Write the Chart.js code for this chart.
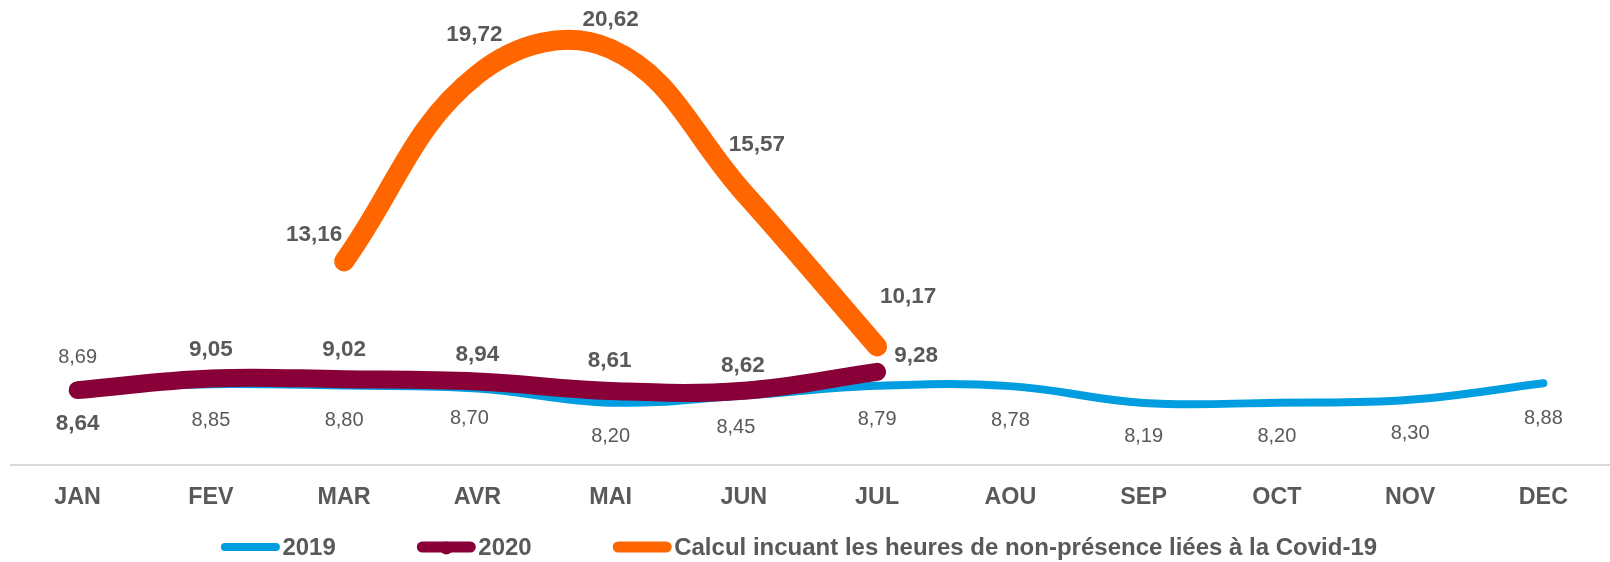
<!DOCTYPE html>
<html>
<head>
<meta charset="utf-8">
<title>Heures de non-présence</title>
<script src="https://cdn.jsdelivr.net/npm/chart.js@4.4.1/dist/chart.umd.min.js"></script>
<style>
  html, body { margin: 0; padding: 0; background: #ffffff; overflow: hidden; }
  #wrap { position: relative; width: 1610px; height: 562px; }
</style>
</head>
<body>
<div id="wrap"><canvas id="chart"></canvas></div>
<script>
// Monthly values
const months = ['JAN', 'FEV', 'MAR', 'AVR', 'MAI', 'JUN', 'JUL', 'AOU', 'SEP', 'OCT', 'NOV', 'DEC'];
const values2019 = [8.69, 8.85, 8.80, 8.70, 8.20, 8.45, 8.79, 8.78, 8.19, 8.20, 8.30, 8.88];
const values2020 = [8.64, 9.05, 9.02, 8.94, 8.61, 8.62, 9.28, null, null, null, null, null];
const valuesCovid = [null, null, 13.16, 19.72, 20.62, 15.57, 10.17, null, null, null, null, null];
const seriesNames = ['2019', '2020', 'Calcul incuant les heures de non-présence liées à la Covid-19'];

// Styling
const FONT = '"Liberation Sans", Arial, Helvetica, sans-serif';
const TEXT_COLOR = '#595959';
const COLORS = ['#009EE0', '#880037', '#FF6600'];
const LINE_WIDTHS = [8, 18, 20];

// Value label placement (offset from the point, in px) and fonts per series
const labelStyle = [
  { font: '20px ' + FONT,
    offsets: [[0, -31], [0, 36], [0, 35], [-8, 30], [0, 34], [-8, 32], [0, 34], [0, 34], [0, 34], [0, 34], [0, 34], [0, 35]] },
  { font: 'bold 22.5px ' + FONT,
    offsets: [[0, 34], [0, -29], [0, -29], [0, -27], [-1, -30], [-1, -25], [39, -16]] },
  { font: 'bold 22.5px ' + FONT,
    offsets: [null, null, [-30, -27], [-3, -40], [0, -29], [13, -48], [31, -50]] }
];

// Legend swatches
const legendStroke = [8, 11, 11];
const legendDot = [false, true, false];
const LEGEND = { center: 799, y: 547, swatch: 59, gap: 2.5, itemGap: 81, font: 'bold 24px ' + FONT };

const fmt = v => v.toFixed(2).replace('.', ',');

const valueLabels = {
  id: 'valueLabels',
  afterDatasetsDraw(chart) {
    const ctx = chart.ctx;
    chart.data.datasets.forEach((ds, di) => {
      const meta = chart.getDatasetMeta(di);
      const st = labelStyle[di];
      ctx.save();
      ctx.font = st.font;
      ctx.fillStyle = TEXT_COLOR;
      ctx.textAlign = 'center';
      ctx.textBaseline = 'middle';
      meta.data.forEach((pt, i) => {
        const v = ds.data[i];
        if (v === null || v === undefined) return;
        const off = st.offsets[i] || [0, -30];
        ctx.fillText(fmt(v), pt.x + off[0], pt.y + off[1]);
      });
      ctx.restore();
    });
  }
};

const lineLegend = {
  id: 'lineLegend',
  afterDraw(chart) {
    const ctx = chart.ctx;
    ctx.save();
    ctx.font = LEGEND.font;
    const items = chart.data.datasets.map((ds, i) => ({
      text: ds.label, color: ds.borderColor, w: legendStroke[i], dot: legendDot[i],
      tw: ctx.measureText(ds.label).width
    }));
    const total = items.reduce((s, it) => s + LEGEND.swatch + LEGEND.gap + it.tw, 0) + LEGEND.itemGap * (items.length - 1);
    let x = LEGEND.center - total / 2;
    const y = LEGEND.y;
    items.forEach(it => {
      ctx.strokeStyle = it.color;
      ctx.lineWidth = it.w;
      ctx.lineCap = 'round';
      ctx.beginPath();
      ctx.moveTo(x + it.w / 2, y);
      ctx.lineTo(x + LEGEND.swatch - it.w / 2, y);
      ctx.stroke();
      if (it.dot) {
        ctx.fillStyle = it.color;
        ctx.beginPath();
        ctx.arc(x + LEGEND.swatch / 2, y + 1, 6.5, 0, Math.PI * 2);
        ctx.fill();
      }
      ctx.fillStyle = TEXT_COLOR;
      ctx.textAlign = 'left';
      ctx.textBaseline = 'middle';
      ctx.fillText(it.text, x + LEGEND.swatch + LEGEND.gap, y + 1);
      x += LEGEND.swatch + LEGEND.gap + it.tw + LEGEND.itemGap;
    });
    ctx.restore();
  }
};

const makeLine = (idx, data, order) => ({
  label: seriesNames[idx],
  data: data,
  borderColor: COLORS[idx],
  backgroundColor: COLORS[idx],
  borderWidth: LINE_WIDTHS[idx],
  borderCapStyle: 'round',
  borderJoinStyle: 'round',
  tension: 0.4,
  pointRadius: 0,
  pointHoverRadius: 0,
  fill: false,
  spanGaps: false,
  order: order
});

new Chart(document.getElementById('chart'), {
  type: 'line',
  data: {
    labels: months,
    datasets: [
      makeLine(0, values2019, 3),
      makeLine(1, values2020, 2),
      makeLine(2, valuesCovid, 1)
    ]
  },
  options: {
    responsive: true,
    maintainAspectRatio: false,
    animation: false,
    events: [],
    layout: { padding: { left: 11, right: -5, top: 9.6, bottom: 0 } },
    plugins: {
      legend: { display: false },
      tooltip: { enabled: false },
      title: { display: false }
    },
    scales: {
      x: {
        offset: true,
        grid: { display: false, drawTicks: false },
        border: { display: true, color: '#d9d9d9', width: 2 },
        ticks: {
          color: TEXT_COLOR,
          font: { family: FONT, size: 23.3, weight: 'bold' },
          padding: 18,
          maxRotation: 0,
          autoSkip: false
        },
        afterFit(scale) { scale.height = 96.7; }
      },
      y: {
        display: false,
        min: 6,
        max: 22
      }
    }
  },
  plugins: [valueLabels, lineLegend]
});
</script>
</body>
</html>
